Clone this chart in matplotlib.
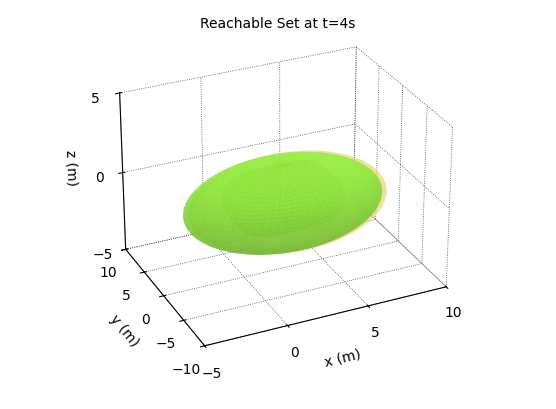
import numpy as np
import matplotlib
matplotlib.use("Agg")
import matplotlib.pyplot as plt

title = "Reachable Set at t=4s"
xticks = [-5, 0, 5, 10]
yticks = [-10, -5, 0, 5, 10]
zticks = [-5, 0, 5]
outer_center = [2.5, 0.0, -0.8]
outer_radii = [6.0, 6.5, 2.4]
inner_center = [2.5, 0.0, -0.5]
inner_radii = [3.4, 3.6, 1.6]
inner_power = 4

fig = plt.figure(figsize=(5.56, 4.10), dpi=100)
ax = fig.add_subplot(111, projection="3d")
ax.set_position([-0.03, 0.02, 1.06, 1.0])

u = np.linspace(0, 2*np.pi, 80)
v = np.linspace(0, np.pi, 40)
U, V = np.meshgrid(u, v)

def colors(base, V, U):
    b = np.array(matplotlib.colors.to_rgb(base))
    f = 0.85 + 0.25*np.cos(V) - 0.05*np.sin(U)
    return np.clip(b[None, None, :]*f[..., None], 0, 1)

def sp(t, p):
    return np.sign(t)*np.abs(t)**(2.0/p)
Xi = inner_center[0] + inner_radii[0]*sp(np.cos(U), inner_power)*sp(np.sin(V), inner_power)
Yi = inner_center[1] + inner_radii[1]*sp(np.sin(U), inner_power)*sp(np.sin(V), inner_power)
Zi = inner_center[2] + inner_radii[2]*np.cos(V)

X = outer_center[0] + outer_radii[0]*np.cos(U)*np.sin(V)
Y = outer_center[1] + outer_radii[1]*np.sin(U)*np.sin(V)
Z = outer_center[2] + outer_radii[2]*np.cos(V)
ax.plot_surface(X+0.3, Y, Z, color="#e8d870", alpha=0.5, linewidth=0, shade=False)
ax.plot_surface(X, Y, Z*0.98, facecolors=colors("#8cf03c", V, U), alpha=0.65,
                linewidth=0, shade=False, rstride=1, cstride=1)
ax.plot_surface(Xi, Yi, Zi, facecolors=colors("#5aa82c", V, U), alpha=0.7,
                linewidth=0, shade=False, rstride=1, cstride=1)

ax.set_xlim(-5, 10); ax.set_ylim(-10, 10); ax.set_zlim(-5, 5)
ax.set_xticks(xticks); ax.set_yticks(yticks); ax.set_zticks(zticks)
ax.set_xlabel("x (m)"); ax.set_ylabel("y (m)"); ax.set_zlabel("z (m)")
ax.set_title(title, fontsize=10, y=0.97)
ax.view_init(elev=28, azim=-115)
ax.set_box_aspect((1.4, 1.1, 0.95), zoom=0.9)
for a in (ax.xaxis, ax.yaxis, ax.zaxis):
    a.set_pane_color((1, 1, 1, 0))
    a._axinfo["grid"]["linestyle"] = ":"
    a._axinfo["grid"]["color"] = (0.3, 0.3, 0.3, 1)
    a._axinfo["grid"]["linewidth"] = 0.6
fig.savefig("out.png", dpi=100)
